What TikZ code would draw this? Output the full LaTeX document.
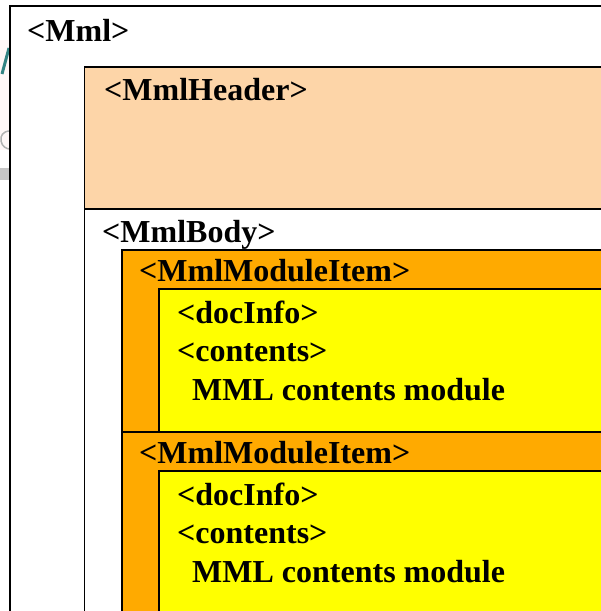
\documentclass[tikz,border=0pt]{standalone}
\usepackage{fontspec}
\setmainfont{Liberation Serif}
\definecolor{peach}{RGB}{253,213,168}
\definecolor{modorange}{RGB}{255,170,0}
\definecolor{docyellow}{RGB}{255,255,0}
\begin{document}
\begin{tikzpicture}[x=1pt,y=-1pt,
  boxline/.style={draw=black,line width=1.9pt},
  lbl/.style={anchor=base west,inner sep=0pt,font=\fontsize{32}{38}\selectfont\bfseries}]
\useasboundingbox (0,0) rectangle (601,611);
\clip (0,0) rectangle (601,611);
% faint background remnants at the left edge
\fill[red!3] (0,40) rectangle (10,150);
\draw[teal!80!black,line width=3pt,opacity=0.8] (2,74) -- (9,48);
\draw[gray!60,line width=1.5pt] (10,131) .. controls (3,131) and (0,136) .. (1,141) .. controls (2,147) and (7,149) .. (10,149);
\fill[gray!45] (0,168) rectangle (10,180);
% outer <Mml>
\draw[boxline,fill=white] (10,6) rectangle (640,650);
\node[lbl] (mml) at (27,41) {<Mml>};
% header
\draw[boxline,fill=peach] (84.5,67) rectangle (640,209);
\node[lbl] (hdr) at (104,100) {<MmlHeader>};
% body
\draw[boxline,fill=white] (84.5,209) rectangle (640,650);
\node[lbl] (body) at (102,242) {<MmlBody>};
% module item 1
\draw[boxline,fill=modorange] (122,250) rectangle (640,432);
\node[lbl] (m1) at (139,281) {<MmlModuleItem>};
\draw[boxline,fill=docyellow] (159,289) rectangle (640,432);
\node[lbl] (d1) at (177,323) {<docInfo>};
\node[lbl] (c1) at (177,361.5) {<contents>};
\node[lbl] (t1) at (192,400) {MML contents module};
% module item 2
\draw[boxline,fill=modorange] (122,432) rectangle (640,650);
\node[lbl] (m2) at (139,463) {<MmlModuleItem>};
\draw[boxline,fill=docyellow] (159,471) rectangle (640,650);
\node[lbl] (d2) at (177,505) {<docInfo>};
\node[lbl] (c2) at (177,543.5) {<contents>};
\node[lbl] (t2) at (192,582) {MML contents module};
\end{tikzpicture}
\end{document}
